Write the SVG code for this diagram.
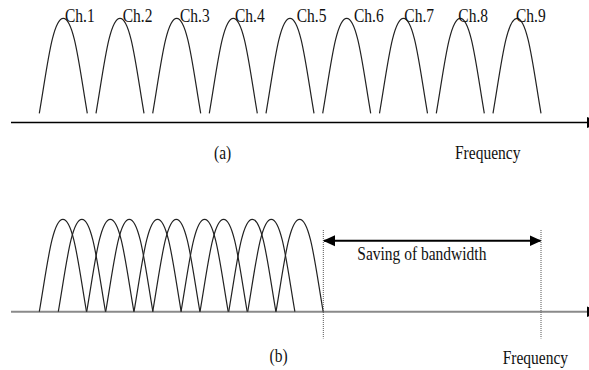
<svg xmlns="http://www.w3.org/2000/svg" width="589" height="370" viewBox="0 0 589 370">
<defs>
<style>
.crv{fill:none;stroke:#222;stroke-width:1.2}
.lbl{font-family:"Liberation Serif","Times New Roman",serif;font-size:15.5px;fill:#111}
.dot{stroke:#555;stroke-width:1;stroke-dasharray:1,1;fill:none}
</style>
<path id="arch" d="M0,95 C7.5,52 13,0 24,0 C35,0 40.5,52 48,95"/>
<path id="arch2" d="M0,92.4 C7.4,50 12.8,0 23.6,0 C34.4,0 39.8,50 47.2,92.4"/>
<marker id="ah" viewBox="0 0 12 12" refX="11" refY="6" markerWidth="12" markerHeight="12" markerUnits="userSpaceOnUse" orient="auto-start-reverse">
<path d="M0,0.5 L12,6 L0,11.5 Z" fill="#000"/>
</marker>
</defs>
<rect width="589" height="370" fill="#fff"/>
<g id="panel-a">
<line x1="11" y1="122.5" x2="588" y2="122.5" stroke="#000" stroke-width="1.5"/>
<polygon points="587,117 600,122.5 587,128" fill="#000"/>
<g class="crv">
<use href="#arch" x="39.3" y="18.3"/>
<use href="#arch" x="96" y="18.3"/>
<use href="#arch" x="152.7" y="18.3"/>
<use href="#arch" x="209.3" y="18.3"/>
<use href="#arch" x="266" y="18.3"/>
<use href="#arch" x="322.7" y="18.3"/>
<use href="#arch" x="379.5" y="18.3"/>
<use href="#arch" x="436.3" y="18.3"/>
<use href="#arch" x="493" y="18.3"/>
</g>
<g class="lbl">
<text transform="translate(65,22) scale(1,1.2)">Ch.1</text>
<text transform="translate(122.7,22) scale(1,1.2)">Ch.2</text>
<text transform="translate(180,22) scale(1,1.2)">Ch.3</text>
<text transform="translate(235,22) scale(1,1.2)">Ch.4</text>
<text transform="translate(296.7,22) scale(1,1.2)">Ch.5</text>
<text transform="translate(354,22) scale(1,1.2)">Ch.6</text>
<text transform="translate(404.3,22) scale(1,1.2)">Ch.7</text>
<text transform="translate(458.3,22) scale(1,1.2)">Ch.8</text>
<text transform="translate(516,22) scale(1,1.2)">Ch.9</text>
<text transform="translate(214,159) scale(1,1.2)">(a)</text>
<text transform="translate(455,159) scale(1,1.2)">Frequency</text>
</g>
</g>
<g id="panel-b">
<line x1="11" y1="311.7" x2="588" y2="311.7" stroke="#8a8a8a" stroke-width="2"/>
<polygon points="587,306.5 600,311.7 587,317" fill="#000"/>
<g class="crv">
<use href="#arch2" x="39.3" y="219.3"/>
<use href="#arch2" x="58.3" y="219.3"/>
<use href="#arch2" x="86.7" y="219.3"/>
<use href="#arch2" x="105.7" y="219.3"/>
<use href="#arch2" x="134" y="219.3"/>
<use href="#arch2" x="152.7" y="219.3"/>
<use href="#arch2" x="181" y="219.3"/>
<use href="#arch2" x="200" y="219.3"/>
<use href="#arch2" x="228.7" y="219.3"/>
<use href="#arch2" x="247.7" y="219.3"/>
<use href="#arch2" x="276" y="219.3"/>
</g>
<line class="dot" x1="323.3" y1="230" x2="323.3" y2="338.5"/>
<line class="dot" x1="541" y1="230" x2="541" y2="338.5"/>
<line x1="324" y1="240.7" x2="540.5" y2="240.7" stroke="#000" stroke-width="2" marker-start="url(#ah)" marker-end="url(#ah)"/>
<g class="lbl">
<text transform="translate(357.3,260) scale(1,1.2)">Saving of bandwidth</text>
<text transform="translate(269.5,362) scale(1,1.2)">(b)</text>
<text transform="translate(502.7,364) scale(1,1.2)">Frequency</text>
</g>
</g>
</svg>
